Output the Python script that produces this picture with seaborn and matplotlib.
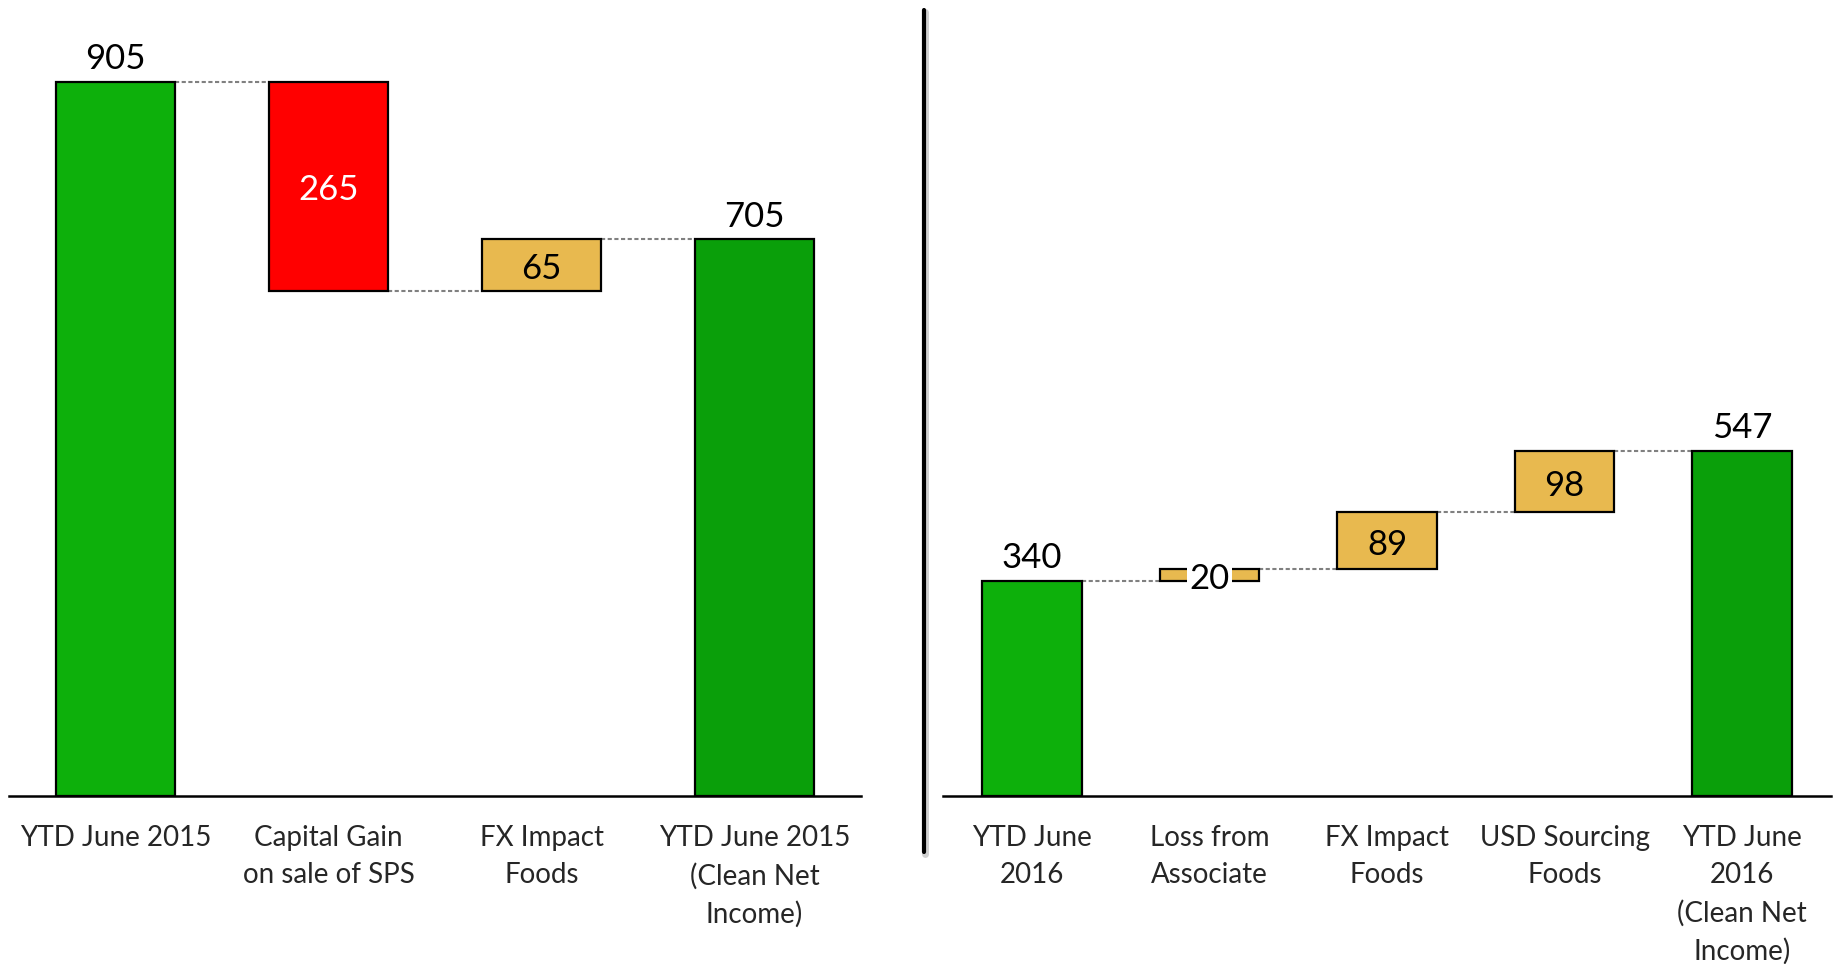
import matplotlib
matplotlib.use("Agg")
import matplotlib.pyplot as plt
from matplotlib.lines import Line2D
import seaborn as sns
import pandas as pd
import numpy as np

# ---------------- data ----------------
left_labels = ["YTD June 2015", "Capital Gain\non sale of SPS", "FX Impact\nFoods",
               "YTD June 2015\n(Clean Net\nIncome)"]
left_values = [905, -265, 65, 705]          # start total, changes, end total
left_kinds = ["total", "neg", "pos", "total"]

right_labels = ["YTD June\n2016", "Loss from\nAssociate", "FX Impact\nFoods",
                "USD Sourcing\nFoods", "YTD June\n2016\n(Clean Net\nIncome)"]
right_values = [340, 20, 89, 98, 547]
right_kinds = ["total", "pos", "pos", "pos", "total"]

GREEN1 = "#0DB00B"
GREEN2 = "#0A9F0A"
RED = "#FF0000"
GOLD = "#E8B94F"

sns.set_theme(style="white")
plt.rcParams["font.family"] = ["Lato", "DejaVu Sans"]

fig = plt.figure(figsize=(18.39, 9.64), dpi=100)
W, H = 1839, 964
base_y = 795.7
ax_h = 788
ax1 = fig.add_axes([9 / W, (H - base_y) / H, (861 - 9) / W, ax_h / H])
ax2 = fig.add_axes([943 / W, (H - base_y) / H, (1831 - 943) / W, ax_h / H])


def waterfall(ax, labels, values, kinds, ymax):
    n = len(values)
    bottoms, heights, levels = [], [], []
    level = 0
    for v, k in zip(values, kinds):
        if k == "total":
            bottoms.append(0)
            heights.append(v)
            level = v
        else:
            new = level + v
            bottoms.append(min(level, new))
            heights.append(abs(v))
            level = new
        levels.append(level)
    df = pd.DataFrame({"cat": labels, "h": heights})
    sns.barplot(data=df, x="cat", y="h", order=labels, width=0.56, color=GOLD,
                edgecolor="black", linewidth=1.6, saturation=1, ax=ax, zorder=2)
    colors = []
    for i, k in enumerate(kinds):
        if k == "total":
            colors.append(GREEN1 if i == 0 else GREEN2)
        elif k == "neg":
            colors.append(RED)
        else:
            colors.append(GOLD)
    for p, b, h, c in zip(ax.patches, bottoms, heights, colors):
        p.set_y(b)
        p.set_height(h)
        p.set_facecolor(c)
    hw = 0.28
    # connectors
    for i in range(n - 1):
        ax.plot([i + hw, i + 1 - hw], [levels[i], levels[i]], color="#808080",
                lw=1.5, linestyle=(0, (2, 1.2)), zorder=1)
    # value labels
    for i, (v, k) in enumerate(zip(values, kinds)):
        if k == "total":
            ax.annotate(f"{abs(v)}", (i, heights[i]), xytext=(0, 5),
                        textcoords="offset points", ha="center", va="bottom",
                        fontsize=25, color="black")
        else:
            mid = bottoms[i] + heights[i] / 2
            col = "white" if k == "neg" else "black"
            kw = {}
            if heights[i] < 40:
                kw["bbox"] = dict(facecolor="white", edgecolor="none", pad=1.5)
            ax.annotate(f"{abs(v)}", (i, mid), xytext=(0, -3),
                        textcoords="offset points", ha="center", va="center",
                        fontsize=25, color=col, zorder=4, **kw)
    ax.set_xlim(-0.5, n - 0.5)
    ax.set_ylim(0, ymax)
    ax.set_xlabel("")
    ax.set_ylabel("")
    ax.set_yticks([])
    ax.tick_params(axis="x", length=0, pad=21, labelsize=20)
    for lab in ax.get_xticklabels():
        lab.set_linespacing(1.53)
    for s in ["top", "left", "right"]:
        ax.spines[s].set_visible(False)
    ax.spines["bottom"].set_color("black")
    ax.spines["bottom"].set_linewidth(1.8)
    ax.spines["bottom"].set_zorder(5)


waterfall(ax1, left_labels, left_values, left_kinds, ax_h / 0.789)
waterfall(ax2, right_labels, right_values, right_kinds, ax_h / 0.631)

# separator line between panels
x_sep = 923.5 / W
fig.add_artist(Line2D([x_sep + 1.5 / W, x_sep + 1.5 / W], [1 - 12 / H, 1 - 854 / H],
                      color="#d0d0d0", lw=5, transform=fig.transFigure))
fig.add_artist(Line2D([x_sep, x_sep], [1 - 10 / H, 1 - 852 / H], color="black",
                      lw=3, transform=fig.transFigure))

fig.savefig("out.png", dpi=100, facecolor="white")
